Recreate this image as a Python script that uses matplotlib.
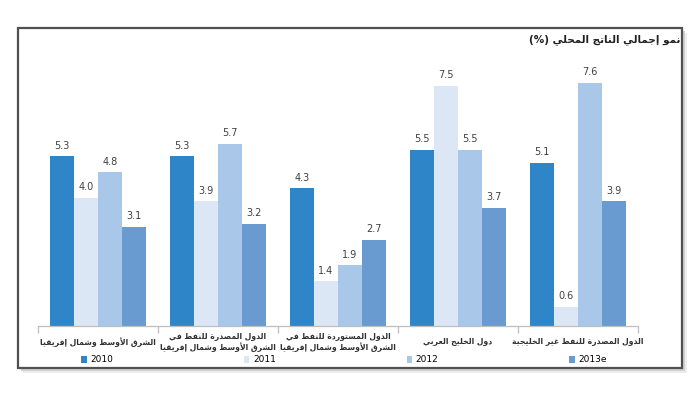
import matplotlib
matplotlib.use("Agg")
import matplotlib.pyplot as plt
from matplotlib.patches import Rectangle, Patch
import numpy as np

# ---------------- data ----------------
categories = [
    "الشرق الأوسط وشمال إفريقيا",
    "الدول المصدرة للنفط في\nالشرق الأوسط وشمال إفريقيا",
    "الدول المستوردة للنفط في\nالشرق الأوسط وشمال إفريقيا",
    "دول الخليج العربي",
    "الدول المصدرة للنفط غير الخليجية",
]
series_names = ["2010", "2011", "2012", "2013e"]
v2010 = [5.3, 5.3, 4.3, 5.5, 5.1]
v2011 = [4.0, 3.9, 1.4, 7.5, 0.6]
v2012 = [4.8, 5.7, 1.9, 5.5, 7.6]
v2013 = [3.1, 3.2, 2.7, 3.7, 3.9]
title = "نمو إجمالي الناتج المحلي (%)"

colors = ["#2E86C9", "#DCE7F5", "#A9C7E8", "#6A9BD0"]

# ---------------- minimal Arabic shaper (matplotlib has no RTL shaping) ----------------
ONE = {'ء': 0xFE80}
TWO = {'آ': 0xFE81, 'أ': 0xFE83, 'ؤ': 0xFE85, 'إ': 0xFE87, 'ا': 0xFE8D, 'ة': 0xFE93,
       'د': 0xFEA9, 'ذ': 0xFEAB, 'ر': 0xFEAD, 'ز': 0xFEAF, 'و': 0xFEED, 'ى': 0xFEEF}
FOUR = {'ئ': 0xFE89, 'ب': 0xFE8F, 'ت': 0xFE95, 'ث': 0xFE99, 'ج': 0xFE9D, 'ح': 0xFEA1,
        'خ': 0xFEA5, 'س': 0xFEB1, 'ش': 0xFEB5, 'ص': 0xFEB9, 'ض': 0xFEBD, 'ط': 0xFEC1,
        'ظ': 0xFEC5, 'ع': 0xFEC9, 'غ': 0xFECD, 'ف': 0xFED1, 'ق': 0xFED5, 'ك': 0xFED9,
        'ل': 0xFEDD, 'م': 0xFEE1, 'ن': 0xFEE5, 'ه': 0xFEE9, 'ي': 0xFEF1}
LAMALEF = {'آ': 0xFEF5, 'أ': 0xFEF7, 'إ': 0xFEF9, 'ا': 0xFEFB}


def shape_line(s):
    out = []
    ch = list(s)
    n = len(ch)
    i = 0
    while i < n:
        c = ch[i]
        prev = ch[i - 1] if i > 0 else ''
        jp = prev in FOUR
        if c == 'ل' and i + 1 < n and ch[i + 1] in LAMALEF:
            b = LAMALEF[ch[i + 1]]
            out.append(chr(b + 1 if jp else b))
            i += 2
            continue
        nxt = ch[i + 1] if i + 1 < n else ''
        jn = nxt in FOUR or nxt in TWO
        if c in FOUR:
            b = FOUR[c]
            if jp and jn:
                f = b + 3
            elif jp:
                f = b + 1
            elif jn:
                f = b + 2
            else:
                f = b
            out.append(chr(f))
        elif c in TWO:
            out.append(chr(TWO[c] + 1 if jp else TWO[c]))
        elif c in ONE:
            out.append(chr(ONE[c]))
        else:
            out.append(c)
        i += 1
    mirror = {'(': ')', ')': '('}
    return ''.join(mirror.get(x, x) for x in reversed(out))


def shape(s):
    return "\n".join(shape_line(line) for line in s.split("\n"))


# ---------------- figure ----------------
W, H = 700, 394
fig = plt.figure(figsize=(W / 100, H / 100), dpi=100)
fig.patch.set_facecolor("white")


def fx(px):
    return px / W


def fy(py):
    return (H - py) / H


# frame shadow + frame
for off, col in [(5, "#ececec"), (3, "#d2d2d2")]:
    fig.patches.append(Rectangle((fx(18 + off), fy(368 + off)), fx(664), (368 - 28) / H,
                                 transform=fig.transFigure, facecolor=col, edgecolor="none", zorder=0))
fig.patches.append(Rectangle((fx(18), fy(368)), fx(664), (368 - 28) / H,
                             transform=fig.transFigure, facecolor="white", edgecolor="#505050",
                             linewidth=1.6, zorder=1))

ax = fig.add_axes([fx(38), fy(326), fx(600), 272 / H])
ax.set_zorder(2)
ax.patch.set_alpha(0)

x = np.arange(len(categories))
width = 0.2
offsets = [-0.3, -0.1, 0.1, 0.3]
all_vals = [v2010, v2011, v2012, v2013]
for vals, name, col, off in zip(all_vals, series_names, colors, offsets):
    bars = ax.bar(x + off, vals, width, color=col, label=name, zorder=2)
    ax.bar_label(bars, labels=[f"{v:.1f}" for v in vals], padding=4, fontsize=7,
                 color="#404040", family=["Liberation Sans Narrow", "DejaVu Sans"])

ax.set_xlim(-0.5, len(categories) - 0.5)
ax.set_ylim(0, 8.5)
for s in ["top", "right", "left"]:
    ax.spines[s].set_visible(False)
ax.spines["bottom"].set_color("#BFBFBF")
ax.spines["bottom"].set_linewidth(0.9)
ax.set_yticks([])
ax.set_xticks(np.arange(-0.5, len(categories), 1.0))
ax.set_xticklabels([])
ax.tick_params(axis="x", length=5, color="#BFBFBF", width=0.9)

for xi, cat in zip(x, categories):
    ax.text(xi, -0.058, shape(cat), transform=ax.get_xaxis_transform(), ha="center", va="center",
            multialignment="center", fontsize=5.5, fontweight="bold", color="#303030",
            family="DejaVu Sans", linespacing=1.15, clip_on=False)

fig.text(fx(680), fy(40), shape(title), ha="right", va="center", fontsize=7.5,
         fontweight="bold", color="#202020", family="DejaVu Sans")

handles = [Patch(facecolor=c, edgecolor="none") for c in colors]
fig.legend(handles, series_names, loc="center", bbox_to_anchor=(fx(344), fy(360)), ncol=4,
           frameon=False, handlelength=0.6, handleheight=0.8, handletextpad=0.4,
           columnspacing=14.5, prop={"family": ["Liberation Sans Narrow", "DejaVu Sans"], "size": 6.5})

fig.savefig("out.png", dpi=100)
